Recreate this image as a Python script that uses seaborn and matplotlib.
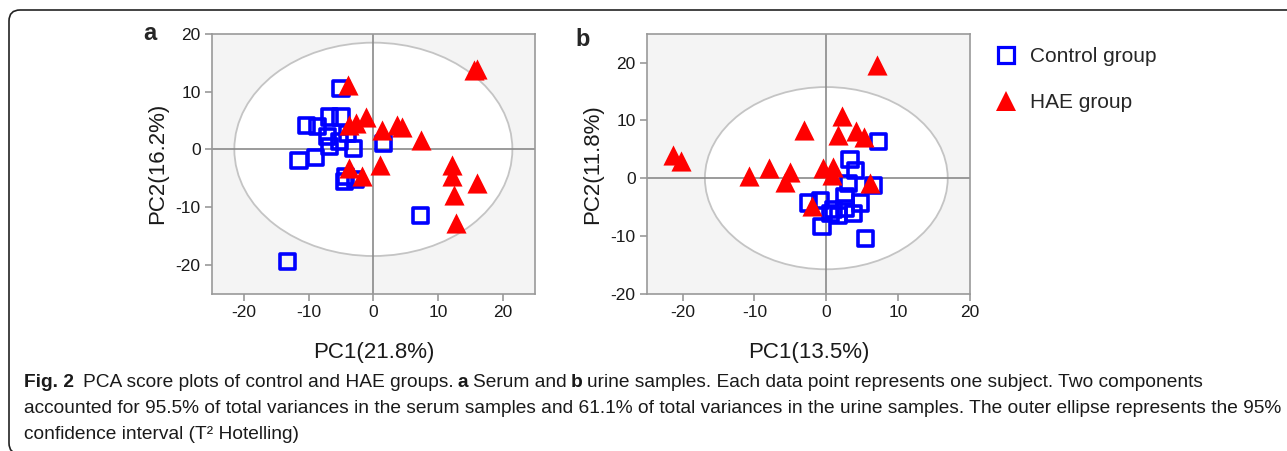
import numpy as np
import pandas as pd
import matplotlib
matplotlib.use("Agg")
import matplotlib.pyplot as plt
import seaborn as sns
from matplotlib.patches import Ellipse, FancyBboxPatch
from matplotlib.lines import Line2D
from matplotlib.transforms import IdentityTransform
from matplotlib import font_manager

# ---------------- data ----------------
groups = ["Control group", "HAE group"]
colors = ["#0000ff", "#ff0000"]

# panel a: serum
serum_ctrl_pc1 = [-5.0, -10.4, -8.6, -6.8, -5.0, -7.1, -5.3, -3.0, -6.8, -8.9, -11.5, 1.6, -4.3, -4.5, -2.7, -4.0, 7.3, -13.3]
serum_ctrl_pc2 = [10.5, 4.2, 4.0, 5.6, 5.6, 2.2, 1.3, 0.2, 0.5, -1.4, -1.9, 1.0, -4.7, -5.6, -5.3, 2.8, -11.5, -19.5]
serum_hae_pc1 = [-3.9, 15.5, 16.0, -1.2, -2.7, -3.8, 1.4, 3.7, 4.5, 7.4, -3.8, -1.7, 1.1, 12.2, 12.2, 16.1, 12.4, 12.8]
serum_hae_pc2 = [11.1, 13.7, 13.9, 5.6, 4.5, 4.2, 3.3, 4.2, 3.9, 1.6, -3.3, -4.7, -2.7, -2.7, -4.6, -5.9, -7.9, -12.8]

# panel b: urine
urine_ctrl_pc1 = [7.3, 3.3, 4.0, 3.1, 6.6, -2.5, -0.8, 2.6, 4.7, 0.6, 2.6, 3.8, 1.7, -0.6, 5.4, 1.0]
urine_ctrl_pc2 = [6.3, 3.2, 1.4, -0.9, -1.2, -4.3, -3.8, -3.2, -4.3, -6.1, -5.2, -6.1, -6.4, -8.4, -10.4, -5.5]
urine_hae_pc1 = [7.0, 2.2, -3.1, 1.6, 4.2, 5.3, -21.4, -20.2, -10.8, -8.0, -5.1, -5.7, -0.4, 1.0, 0.8, 6.1, -2.0]
urine_hae_pc2 = [19.7, 10.7, 8.4, 7.5, 8.1, 7.2, 4.1, 2.9, 0.3, 1.7, 1.0, -0.6, 1.7, 2.0, 0.6, -0.9, -4.9]

# Hotelling T2 95% ellipse semi-axes (PC1, PC2)
ellipse_serum = [21.5, 18.5]
ellipse_urine = [16.9, 15.8]

ticks = [-20, -10, 0, 10, 20]
xlabels = ["PC1(21.8%)", "PC1(13.5%)"]
ylabels = ["PC2(16.2%)", "PC2(11.8%)"]
panel_letters = ["a", "b"]

caption_line1 = [("Fig. 2", True), ("  PCA score plots of control and HAE groups. ", False), ("a", True),
                 (" Serum and ", False), ("b", True),
                 (" urine samples. Each data point represents one subject. Two components", False)]
caption_line2 = [("accounted for 95.5% of total variances in the serum samples and 61.1% of total variances in the urine samples. The outer ellipse represents the 95%", False)]
caption_line3 = [("confidence interval (T\u00b2 Hotelling)", False)]

# ---------------- style ----------------
sns.set_style("white")
plt.rcParams["font.family"] = ["Liberation Sans", "DejaVu Sans"]
plt.rcParams["axes.unicode_minus"] = False

W, H = 1287, 451
fig = plt.figure(figsize=(W / 100, H / 100), dpi=100)


def ax_rect(l, t, r, b):
    return [l / W, 1 - b / H, (r - l) / W, (b - t) / H]


ax_a = fig.add_axes(ax_rect(211.7, 34, 535, 293.5))
ax_b = fig.add_axes(ax_rect(646.7, 34, 970, 293.5))

panels = [
    (ax_a, serum_ctrl_pc1, serum_ctrl_pc2, serum_hae_pc1, serum_hae_pc2, ellipse_serum, (-25, 25), (-25, 20)),
    (ax_b, urine_ctrl_pc1, urine_ctrl_pc2, urine_hae_pc1, urine_hae_pc2, ellipse_urine, (-25, 20), (-20, 25)),
]

for i, (ax, cx, cy, hx, hy, ell, xl, yl) in enumerate(panels):
    ax.set_facecolor("#f4f4f4")
    ax.add_patch(Ellipse((0, 0), 2 * ell[0], 2 * ell[1], facecolor="white",
                         edgecolor="#c4c4c4", lw=1.3, zorder=0.5))
    ax.axhline(0, color="#8a8a8a", lw=1.2, zorder=1)
    ax.axvline(0, color="#8a8a8a", lw=1.2, zorder=1)

    df_c = pd.DataFrame({"PC1": cx, "PC2": cy, "Group": groups[0]})
    df_h = pd.DataFrame({"PC1": hx, "PC2": hy, "Group": groups[1]})
    sns.scatterplot(data=df_c, x="PC1", y="PC2", marker="s", s=118, ax=ax, legend=False, zorder=3)
    pc = ax.collections[-1]
    pc.set_facecolor("none")
    pc.set_edgecolor(colors[0])
    pc.set_linewidth(2.6)
    sns.scatterplot(data=df_h, x="PC1", y="PC2", marker="^", s=210, ax=ax, legend=False, zorder=4)
    ph = ax.collections[-1]
    ph.set_facecolor(colors[1])
    ph.set_edgecolor(colors[1])
    ph.set_linewidth(0)

    ax.set_xlim(*xl)
    ax.set_ylim(*yl)
    ax.set_xticks(ticks)
    ax.set_yticks(ticks)
    ax.tick_params(bottom=True, left=True, direction="out", length=5, width=1.2,
                   color="#999999", labelsize=12.5, labelcolor="#1a1a1a", pad=3)
    for sp in ax.spines.values():
        sp.set_color("#999999")
        sp.set_linewidth(1.2)
    ax.set_xlabel(xlabels[i], fontsize=16, labelpad=16, color="#1a1a1a")
    ax.set_ylabel(ylabels[i], fontsize=16, labelpad=5, color="#1a1a1a")

fig.text(150 / W, 1 - 33 / H, panel_letters[0], fontsize=17, fontweight="bold", ha="center", va="center")
fig.text(583 / W, 1 - 40 / H, panel_letters[1], fontsize=17, fontweight="bold", ha="center", va="center")

handles = [
    Line2D([], [], marker="s", ls="none", ms=11, mfc="none", mec=colors[0], mew=2.3),
    Line2D([], [], marker="^", ls="none", ms=14.5, mfc=colors[1], mec=colors[1], mew=0),
]
fig.legend(handles, groups, loc="upper left", bbox_to_anchor=(996 / W, 1 - 47 / H),
           frameon=False, fontsize=15, handletextpad=0.65, labelspacing=1.3,
           handlelength=1.0, borderpad=0, borderaxespad=0)

# ---------------- caption ----------------
try:
    font_manager.findfont("Liberation Sans Narrow", fallback_to_default=False)
    cap_family = "Liberation Sans Narrow"
except Exception:
    cap_family = "Liberation Sans"

renderer = fig.canvas.get_renderer()


def draw_runs(runs, x0, y_base, size):
    x = x0
    objs = []
    for txt, bold in runs:
        lead = len(txt) - len(txt.lstrip(" "))
        trail = len(txt) - len(txt.rstrip(" "))
        core = txt.strip(" ")
        x += lead * size * 100 / 72 * 0.23
        t = fig.text(x / W, 1 - y_base / H, core, fontsize=size, family=cap_family,
                     fontweight="bold" if bold else "normal", ha="left", va="baseline",
                     color="#1a1a1a")
        bb = t.get_window_extent(renderer)
        x += bb.width + trail * size * 100 / 72 * 0.23
        objs.append(t)
    return x, objs


# fit caption size so that the first line spans the reference width
probe_end, probe = draw_runs(caption_line1, 24, 387, 12)
for o in probe:
    o.remove()
cap_size = 12 * (1207 - 24) / (probe_end - 24)

draw_runs(caption_line1, 24, 387, cap_size)
draw_runs(caption_line2, 24, 413, cap_size)
draw_runs(caption_line3, 24, 439, cap_size)

# figure frame (rounded top-left / bottom-left)
frame = FancyBboxPatch((9, -3), 1320, H - 10 + 3, boxstyle="round,pad=0,rounding_size=11",
                       transform=IdentityTransform(), fill=False, edgecolor="#222222", lw=1.2)
fig.patches.append(frame)

fig.savefig("out.png", dpi=100)
